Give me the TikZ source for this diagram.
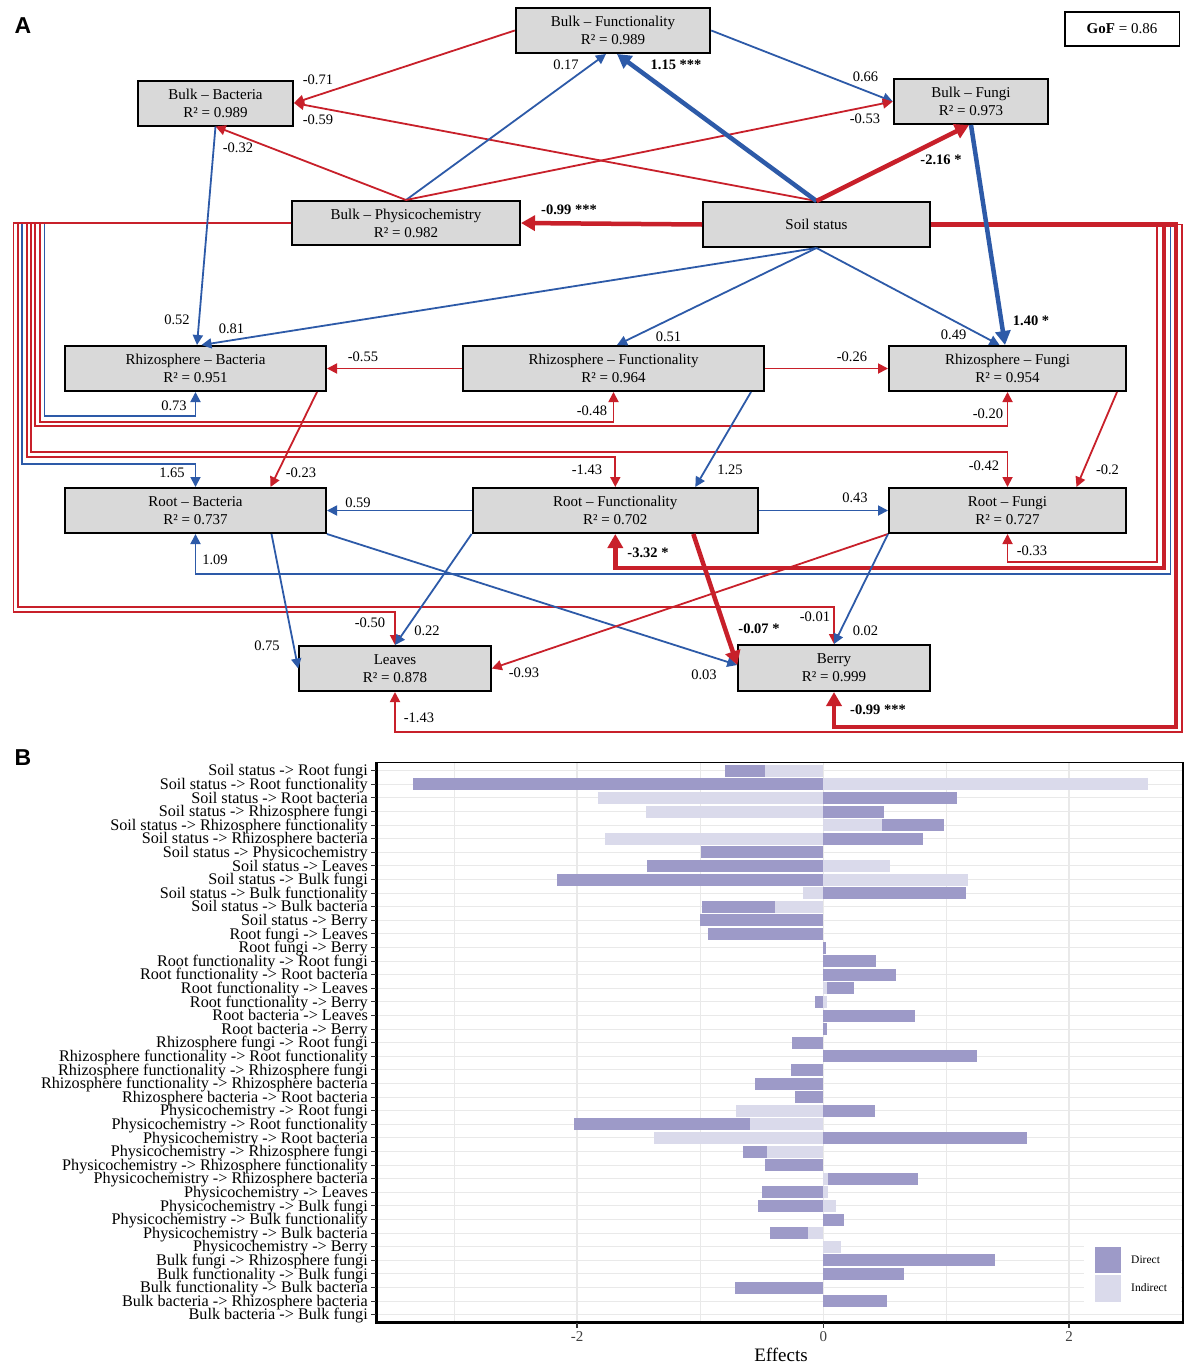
\documentclass[tikz,border=0pt]{standalone}
\usepackage{fontspec}
\setmainfont{Liberation Serif}
\newfontfamily\panelfont{Liberation Sans}
\usetikzlibrary{arrows.meta}
\definecolor{pred}{RGB}{200,32,42}
\definecolor{pblue}{RGB}{45,90,168}
\definecolor{boxgray}{RGB}{217,217,217}
\definecolor{bdark}{RGB}{157,154,200}
\definecolor{blight}{RGB}{218,218,235}
\definecolor{gridc}{RGB}{233,233,233}
\begin{document}
\begin{tikzpicture}[x=1pt,y=-1pt,
 box/.style={draw=black,line width=2pt,fill=boxgray,minimum height=45pt,align=center,inner sep=0pt,font=\fontsize{15}{18}\selectfont},
 lbl/.style={inner sep=0pt,font=\fontsize{14.5}{16}\selectfont},
 blbl/.style={inner sep=0pt,font=\fontsize{14.5}{16}\selectfont\bfseries},
 rthin/.style={draw=pred,line width=1.8pt,-{Triangle[length=10pt,width=10pt]}},
 bthin/.style={draw=pblue,line width=1.8pt,-{Triangle[length=10pt,width=10pt]}},
 rthick/.style={draw=pred,line width=4.5pt,-{Triangle[length=14pt,width=15pt]}},
 bthick/.style={draw=pblue,line width=4.5pt,-{Triangle[length=14pt,width=15pt]}},
 rowlab/.style={anchor=east,inner sep=0pt,text height=10.4pt,text depth=3pt,font=\fontsize{16.2}{16}\selectfont},
 panlab/.style={inner sep=0pt,font=\fontsize{23}{24}\panelfont\bfseries},
]
\fill[white] (0,0) rectangle (1190,1368);
\useasboundingbox (0,0) rectangle (1190,1368);

% ---------------- Panel A nodes
\node[panlab] (pa) at (23,26) {A};
\node[box,minimum width=194.5pt] (bf) at (613,30.5) {Bulk -- Functionality\\R² = 0.989};
\node[box,minimum width=155pt] (bb) at (215.5,103) {Bulk -- Bacteria\\R² = 0.989};
\node[box,minimum width=154.5pt] (bfu) at (971,101.5) {Bulk -- Fungi\\R² = 0.973};
\node[box,minimum width=228pt,minimum height=44pt] (bp) at (406,223) {Bulk -- Physicochemistry\\R² = 0.982};
\node[box,minimum width=227pt] (ss) at (816.5,224.5) {Soil status};
\node[box,minimum width=261pt] (rb) at (195.5,368.5) {Rhizosphere -- Bacteria\\R² = 0.951};
\node[box,minimum width=301pt] (rf) at (613.5,368.5) {Rhizosphere -- Functionality\\R² = 0.964};
\node[box,minimum width=237pt] (rfu) at (1007.5,368.5) {Rhizosphere -- Fungi\\R² = 0.954};
\node[box,minimum width=261pt] (rtb) at (195.5,510.5) {Root -- Bacteria\\R² = 0.737};
\node[box,minimum width=285.4pt] (rtf) at (615.3,510.5) {Root -- Functionality\\R² = 0.702};
\node[box,minimum width=237pt] (rtfu) at (1007.5,510.5) {Root -- Fungi\\R² = 0.727};
\node[box,minimum width=191.6pt] (lv) at (395,668.5) {Leaves\\R² = 0.878};
\node[box,minimum width=191.5pt,minimum height=46pt] (br) at (834,668) {Berry\\R² = 0.999};
\node[draw=black,line width=1.5pt,fill=white,minimum width=114.5pt,minimum height=34pt,inner sep=0pt,font=\fontsize{15}{18}\selectfont] (gof) at (1122,29) {\textbf{GoF} = 0.86};

% ---------------- left routed (from physicochemistry)
\draw[bthin] (bp.west) -| (44.4,416) -| (rb.south);
\draw[bthin] (bp.west) -| (22,464) -| (rtb.north);
\draw[rthin] (bp.west) -| (39.8,422) -| (rf.south);
\draw[rthin] (bp.west) -| (35.2,426) -| (rfu.south);
\draw[rthin] (bp.west) -| (30.6,452) -| (rtfu.north);
\draw[rthin] (bp.west) -| (26.6,457) -| (rtf.north);
\draw[rthin] (bp.west) -| (17.9,607) -| (br.north);
\draw[rthin] (bp.west) -| (13.4,612) -| (lv.north);

% ---------------- right routed (from soil status)
\draw[rthin] (ss.east) -| (1157,562) -| (rtfu.south);
\draw[bthin] (ss.east) -| (1170.5,574) -| (rtb.south);
\draw[rthin] (ss.east) -| (1182,732) -| (lv.south);
\draw[rthick] (ss.east) -| (1164,568) -| (rtf.south);
\draw[rthick] (ss.east) -| (1176,727) -| (br.south);

% ---------------- direct edges
\draw[rthin] (bf.west) -- (bb.east);
\draw[rthin] (ss.north) -- (bb.east);
\draw[rthin] (bp.north) -- (bb.south);
\draw[bthin] (bp.north) -- ([xshift=-7pt]bf.south);
\draw[bthin] (bf.east) -- (bfu.west);
\draw[rthin] (bp.north) -- (bfu.west);
\draw[bthin] (bb.south) -- ([xshift=1.5pt]rb.north);
\draw[bthin] (ss.south) -- ([xshift=6pt]rb.north);
\draw[bthin] (ss.south) -- ([xshift=3.5pt]rf.north);
\draw[bthin] (ss.south) -- ([xshift=-8pt]rfu.north);
\draw[rthin] (rf.west) -- (rb.east);
\draw[rthin] (rf.east) -- (rfu.west);
\draw[rthin] ([xshift=-10pt]rb.south east) -- ([xshift=75pt]rtb.north);
\draw[bthin] ([xshift=-14pt]rf.south east) -- ([xshift=80pt]rtf.north);
\draw[rthin] ([xshift=-10pt]rfu.south east) -- ([xshift=69pt]rtfu.north);
\draw[bthin] (rtf.west) -- (rtb.east);
\draw[bthin] (rtf.east) -- (rtfu.west);
\draw[bthin] ([xshift=76pt]rtb.south) -- (lv.west);
\draw[bthin] (rtf.south west) -- (lv.north);
\draw[bthin] (rtb.south east) -- ([yshift=3pt]br.west);
\draw[rthin] (rtfu.south west) -- (lv.east);
\draw[bthin] (rtfu.south west) -- (br.north);
\draw[bthick] (ss.north) -- ([xshift=4pt]bf.south);
\draw[rthick] (ss.north) -- ([xshift=-2pt]bfu.south);
\draw[bthick] (bfu.south) -- ([xshift=-2.5pt]rfu.north);
\draw[rthick] (ss.west) -- (bp.east);
\draw[rthick] ([xshift=78pt]rtf.south) -- ([yshift=3pt]br.west);

% ---------------- edge labels
\node[lbl] (l01) at (318,80) {-0.71};
\node[lbl] (l02) at (318,120) {-0.59};
\node[lbl] (l03) at (238,148) {-0.32};
\node[lbl] (l04) at (566,65) {0.17};
\node[blbl] (l05) at (676,65) {1.15 ***};
\node[lbl] (l06) at (865.5,77) {0.66};
\node[lbl] (l07) at (865,119) {-0.53};
\node[blbl] (l08) at (941,160) {-2.16 *};
\node[blbl] (l09) at (569,210) {-0.99 ***};
\node[lbl] (l10) at (177,320) {0.52};
\node[lbl] (l11) at (231.5,329) {0.81};
\node[lbl] (l12) at (668.5,337) {0.51};
\node[lbl] (l13) at (953.6,335) {0.49};
\node[blbl] (l14) at (1031,321) {1.40 *};
\node[lbl] (l15) at (363,357) {-0.55};
\node[lbl] (l16) at (852,357) {-0.26};
\node[lbl] (l17) at (174,406) {0.73};
\node[lbl] (l18) at (592,411) {-0.48};
\node[lbl] (l19) at (988,414) {-0.20};
\node[lbl] (l20) at (172,473) {1.65};
\node[lbl] (l21) at (301,473) {-0.23};
\node[lbl] (l22) at (587,470) {-1.43};
\node[lbl] (l23) at (730,470) {1.25};
\node[lbl] (l24) at (984,466) {-0.42};
\node[lbl] (l25) at (1107.5,470) {-0.2};
\node[lbl] (l26) at (358,503) {0.59};
\node[lbl] (l27) at (855,498) {0.43};
\node[lbl] (l28) at (215,560) {1.09};
\node[blbl] (l29) at (648,553) {-3.32 *};
\node[lbl] (l30) at (1032,551) {-0.33};
\node[lbl] (l31) at (370,623) {-0.50};
\node[lbl] (l32) at (427,631) {0.22};
\node[lbl] (l33) at (267,646) {0.75};
\node[lbl] (l34) at (815,617) {-0.01};
\node[blbl] (l35) at (759,629) {-0.07 *};
\node[lbl] (l36) at (865.5,631) {0.02};
\node[lbl] (l37) at (524,673) {-0.93};
\node[lbl] (l38) at (704,675) {0.03};
\node[lbl] (l39) at (419,718) {-1.43};
\node[blbl] (l40) at (878,710) {-0.99 ***};

% ---------------- Panel B
\node[panlab] (pb) at (23,758) {B};
% grid
\foreach \gx in {454,700,946} \draw[gridc,line width=0.6pt] (\gx,762.7) -- (\gx,1322.7);
\foreach \gx in {577,823.4,1069} \draw[gridc,line width=1.1pt] (\gx,762.7) -- (\gx,1322.7);
\foreach \i in {0,...,40} \draw[gridc,line width=1.1pt] (376,{770.7+13.6*\i}) -- (1183,{770.7+13.6*\i});
% bars light
\foreach \i/\a/\b in {0/764.5/823.4, 1/823.4/1148, 2/598.4/823.4, 3/646.3/823.4, 4/823.4/881.6, 5/605.3/823.4, 7/823.4/890, 8/823.4/968, 9/803.2/823.4, 10/774.5/823.4, 16/823.4/827.3, 17/823.4/826.5, 25/736.2/823.4, 26/750/823.4, 27/654.3/823.4, 28/767.2/823.4, 30/823.4/828, 31/823.4/828, 32/823.4/836, 34/808/823.4, 35/823.4/840.7}
  \fill[blight] (\a,{770.7+13.6*\i-6}) rectangle (\b,{770.7+13.6*\i+6});
% bars dark
\foreach \i/\a/\b in {0/724.7/764.5, 1/413/823.4, 2/823.4/957.4, 3/823.4/883.5, 4/881.6/944, 5/823.4/923.3, 6/701/823.4, 7/647/823.4, 8/557/823.4, 9/823.4/966.2, 10/702/774.5, 11/700.2/823.4, 12/708.3/823.4, 13/823.4/826, 14/823.4/876.3, 15/823.4/896.2, 16/827.3/854, 17/815/823.4, 18/823.4/915.3, 19/823.4/826.9, 20/792/823.4, 21/823.4/976.5, 22/791/823.4, 23/755.3/823.4, 24/794.7/823.4, 25/823.4/875, 26/574/750, 27/823.4/1027, 28/743/767.2, 29/764.5/823.4, 30/828/917.6, 31/762.2/823.4, 32/758.4/823.4, 33/823.4/843.7, 34/769.5/808, 36/823.4/994.5, 37/823.4/904.2, 38/735.4/823.4, 39/823.4/887}
  \fill[bdark] (\a,{770.7+13.6*\i-6}) rectangle (\b,{770.7+13.6*\i+6});
% legend
\fill[white] (1084,1240) rectangle (1181,1310);
\fill[bdark] (1095,1247) rectangle (1121,1273);
\fill[blight] (1095,1275) rectangle (1121,1302);
\node[anchor=west,inner sep=0pt,font=\fontsize{11.5}{12}\selectfont] (ld) at (1131,1260) {Direct};
\node[anchor=west,inner sep=0pt,font=\fontsize{11.5}{12}\selectfont] (li) at (1131,1288) {Indirect};
% frame and axes
\draw[black,line width=1.3pt] (376,762.7) -- (1183,762.7) -- (1183,1322.7);
\draw[black,line width=3pt] (376,762) -- (376,1322.7) -- (1183.6,1322.7);
\foreach \i in {0,...,40} \draw[black!80,line width=1.1pt] (371,{770.7+13.6*\i}) -- (376,{770.7+13.6*\i});
\foreach \gx/\t in {577/-2,823.4/0,1069/2} {
  \draw[black!80,line width=1.1pt] (\gx,1323) -- (\gx,1328);
  \node[inner sep=0pt,font=\fontsize{15}{16}\selectfont,text=black!75] (xt\t) at (\gx,1337) {\t};
}
\node[inner sep=0pt,font=\fontsize{19}{20}\selectfont] (xlab) at (781,1355) {Effects};
% row labels
\foreach \i/\t in {
0/Soil status -> Root fungi,
1/Soil status -> Root functionality,
2/Soil status -> Root bacteria,
3/Soil status -> Rhizosphere fungi,
4/Soil status -> Rhizosphere functionality,
5/Soil status -> Rhizosphere bacteria,
6/Soil status -> Physicochemistry,
7/Soil status -> Leaves,
8/Soil status -> Bulk fungi,
9/Soil status -> Bulk functionality,
10/Soil status -> Bulk bacteria,
11/Soil status -> Berry,
12/Root fungi -> Leaves,
13/Root fungi -> Berry,
14/Root functionality -> Root fungi,
15/Root functionality -> Root bacteria,
16/Root functionality -> Leaves,
17/Root functionality -> Berry,
18/Root bacteria -> Leaves,
19/Root bacteria -> Berry,
20/Rhizosphere fungi -> Root fungi,
21/Rhizosphere functionality -> Root functionality,
22/Rhizosphere functionality -> Rhizosphere fungi,
23/Rhizosphere functionality -> Rhizosphere bacteria,
24/Rhizosphere bacteria -> Root bacteria,
25/Physicochemistry -> Root fungi,
26/Physicochemistry -> Root functionality,
27/Physicochemistry -> Root bacteria,
28/Physicochemistry -> Rhizosphere fungi,
29/Physicochemistry -> Rhizosphere functionality,
30/Physicochemistry -> Rhizosphere bacteria,
31/Physicochemistry -> Leaves,
32/Physicochemistry -> Bulk fungi,
33/Physicochemistry -> Bulk functionality,
34/Physicochemistry -> Bulk bacteria,
35/Physicochemistry -> Berry,
36/Bulk fungi -> Rhizosphere fungi,
37/Bulk functionality -> Bulk fungi,
38/Bulk functionality -> Bulk bacteria,
39/Bulk bacteria -> Rhizosphere bacteria,
40/Bulk bacteria -> Bulk fungi}
  \node[rowlab] (row\i) at (368,{772.2+13.6*\i}) {\t};
\end{tikzpicture}
\end{document}
